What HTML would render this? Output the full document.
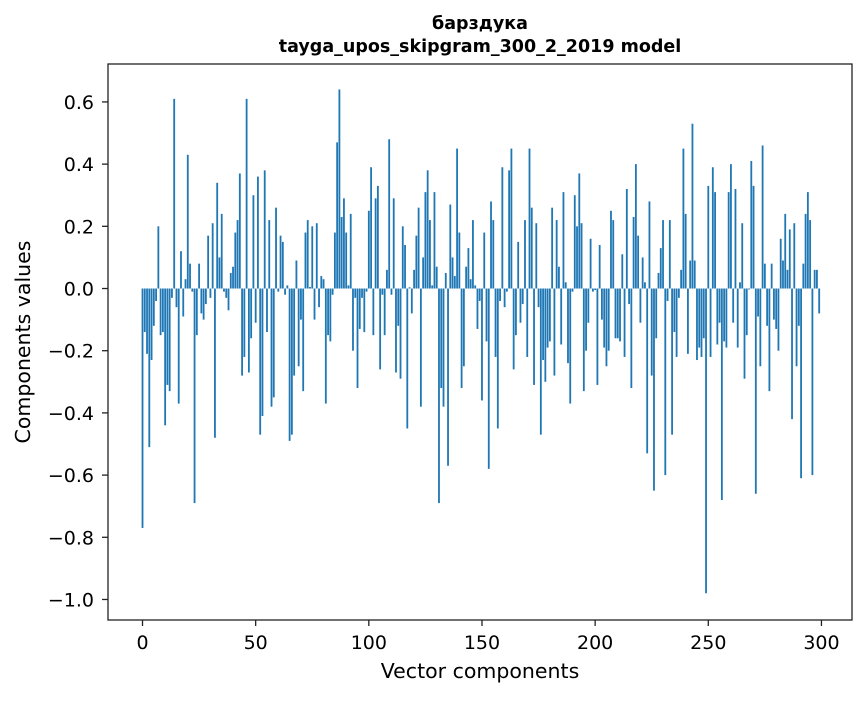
<!DOCTYPE html>
<html><head><meta charset="utf-8"><style>
body{margin:0;background:#fff;}
svg text{font-family:"DejaVu Sans","Liberation Sans",sans-serif;fill:#000;}
</style></head><body>
<svg id="chart" width="867" height="696" xmlns="http://www.w3.org/2000/svg">
<rect width="867" height="696" fill="#fff"/>
<text x="480" y="29" text-anchor="middle" font-size="17.5" font-weight="bold">барздука</text>
<text x="480" y="52" text-anchor="middle" font-size="17.5" font-weight="bold">tayga_upos_skipgram_300_2_2019 model</text>
<g id="bars"></g>
<g id="xticks"></g>
<g id="yticks"></g>
<rect x="108" y="64" width="744" height="556" fill="none" stroke="#222" stroke-width="1.3"/>
<text x="480" y="678" text-anchor="middle" font-size="20.5">Vector components</text>
<text transform="translate(30,342) rotate(-90)" text-anchor="middle" font-size="20.5">Components values</text>
</svg>
<script>
const values = [-0.77,-0.14,-0.21,-0.51,-0.23,-0.12,-0.04,0.20,-0.15,-0.14,
-0.44,-0.31,-0.33,-0.03,0.61,-0.06,-0.37,0.12,-0.09,0.03,
0.43,0.08,-0.01,-0.69,-0.15,0.08,-0.08,-0.10,-0.05,0.17,
-0.03,0.21,-0.48,0.34,0.10,0.24,-0.01,-0.03,-0.07,0.05,
0.07,0.18,0.22,0.37,-0.28,-0.22,0.61,-0.27,-0.16,0.30,
-0.11,0.36,-0.47,-0.41,0.38,-0.14,0.22,-0.38,-0.35,0.26,
-0.01,0.17,0.15,-0.02,0.01,-0.49,-0.47,-0.28,0.09,-0.25,
-0.10,-0.33,0.18,0.22,0.005,0.20,-0.10,0.21,-0.06,0.04,
0.03,-0.37,-0.15,-0.17,-0.02,0.18,0.47,0.64,0.23,0.29,
0.18,0.01,0.24,-0.20,-0.03,-0.32,-0.13,-0.03,-0.14,-0.01,
0.25,0.39,-0.15,0.29,0.33,-0.26,-0.02,-0.15,0.06,0.48,
-0.02,0.29,-0.27,-0.12,-0.29,0.20,0.14,-0.45,0.004,-0.08,
0.06,0.17,0.26,-0.38,0.10,0.31,0.38,0.22,0.01,0.31,
0.07,-0.69,-0.32,-0.38,0.05,-0.57,0.27,0.10,0.04,0.45,
0.18,-0.32,-0.25,0.07,0.13,0.03,0.22,0.01,-0.13,-0.04,
-0.36,0.18,-0.17,-0.58,0.28,0.22,-0.22,-0.45,-0.04,0.39,
-0.06,-0.01,0.38,0.45,-0.26,-0.15,0.15,-0.11,-0.05,0.22,
-0.22,0.45,0.26,-0.31,0.21,-0.06,-0.47,-0.23,-0.30,-0.19,
-0.17,0.26,-0.28,0.22,0.07,-0.18,0.31,0.02,-0.24,-0.37,
-0.01,0.30,0.20,0.37,0.21,-0.33,-0.20,-0.11,0.16,-0.01,
-0.005,-0.31,0.14,-0.10,-0.19,-0.25,-0.20,0.25,0.22,-0.16,
-0.16,-0.17,0.11,-0.22,0.32,-0.05,-0.32,0.23,0.40,0.17,
-0.11,0.10,0.02,-0.53,0.28,-0.28,-0.65,-0.16,0.05,0.13,
0.22,-0.60,-0.04,0.22,-0.47,-0.14,-0.22,-0.03,0.06,0.45,
0.24,-0.21,0.09,0.53,0.09,-0.23,-0.19,-0.22,-0.16,-0.98,
0.33,-0.22,0.39,0.31,-0.18,-0.11,-0.68,-0.17,-0.19,0.31,
0.40,-0.11,0.32,-0.19,0.02,0.21,-0.29,-0.15,-0.003,0.41,
0.33,-0.66,-0.09,-0.25,0.46,0.08,-0.12,-0.33,0.08,-0.10,
-0.13,-0.20,0.16,0.09,0.24,0.06,0.19,-0.42,0.21,-0.25,
-0.12,-0.61,0.08,0.24,0.31,0.22,-0.60,0.06,0.06,-0.08];
const xTicks = [0,50,100,150,200,250,300];
const yTicks = [-1.0,-0.8,-0.6,-0.4,-0.2,0.0,0.2,0.4,0.6];

const L=108,R=852,T=64,B=620;
const xMin=-15.25,xMax=313.5,yMin=-1.066,yMax=0.722;
function xs(v){return L+(v-xMin)/(xMax-xMin)*(R-L);}
function ys(v){return B-(v-yMin)/(yMax-yMin)*(B-T);}
const NS='http://www.w3.org/2000/svg';
const bars=document.getElementById('bars');
values.forEach((v,i)=>{
  const r=document.createElementNS(NS,'rect');
  const x0=xs(i-0.4),x1=xs(i+0.4);
  const y0=ys(Math.max(v,0)),y1=ys(Math.min(v,0));
  r.setAttribute('x',x0);r.setAttribute('width',x1-x0);
  r.setAttribute('y',y0);r.setAttribute('height',Math.max(y1-y0,0.01));
  r.setAttribute('fill','#1f77b4');
  
  
  bars.appendChild(r);
});
const xg=document.getElementById('xticks');
xTicks.forEach(t=>{
  const x=xs(t);
  const l=document.createElementNS(NS,'line');
  l.setAttribute('x1',x);l.setAttribute('x2',x);l.setAttribute('y1',B);l.setAttribute('y2',B+6);
  l.setAttribute('stroke','#222');l.setAttribute('stroke-width','1.3');
  
  
  xg.appendChild(l);
  const tx=document.createElementNS(NS,'text');
  tx.setAttribute('x',x);tx.setAttribute('y',B+29);tx.setAttribute('text-anchor','middle');tx.setAttribute('font-size','19');
  tx.textContent=t;
  
  
  xg.appendChild(tx);
});
const yg=document.getElementById('yticks');
yTicks.forEach(t=>{
  const y=ys(t);
  const l=document.createElementNS(NS,'line');
  l.setAttribute('x1',L-6);l.setAttribute('x2',L);l.setAttribute('y1',y);l.setAttribute('y2',y);
  l.setAttribute('stroke','#222');l.setAttribute('stroke-width','1.3');
  
  
  yg.appendChild(l);
  const tx=document.createElementNS(NS,'text');
  tx.setAttribute('x',L-14);tx.setAttribute('y',y+7);tx.setAttribute('text-anchor','end');tx.setAttribute('font-size','19');
  tx.textContent=(t<0?'\u2212':'')+Math.abs(t).toFixed(1);
  
  
  yg.appendChild(tx);
});
</script>
</body></html>
